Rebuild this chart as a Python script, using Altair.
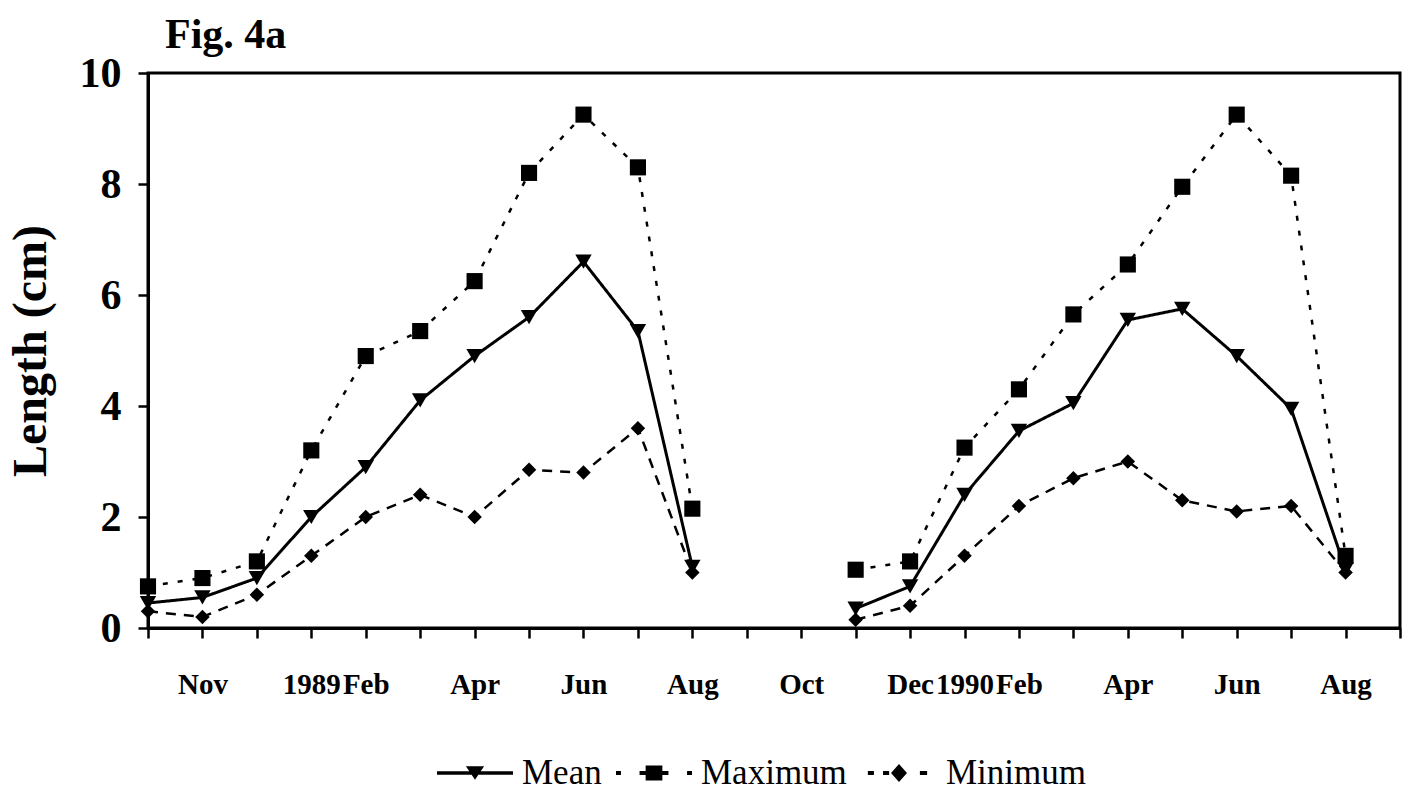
import altair as alt
import pandas as pd

# ---- data ----
series_names = ["Mean", "Maximum", "Minimum"]

# month index: 0 = Oct 1988 ... 22 = Aug 1990
month_index_1 = [0, 1, 2, 3, 4, 5, 6, 7, 8, 9, 10]          # Oct 1988 .. Aug 1989
month_index_2 = [13, 14, 15, 16, 17, 18, 19, 20, 21, 22]    # Nov 1989 .. Aug 1990

mean_1 = [0.45, 0.55, 0.9, 2.0, 2.9, 4.1, 4.9, 5.6, 6.6, 5.35, 1.1]
max_1 = [0.75, 0.9, 1.2, 3.2, 4.9, 5.35, 6.25, 8.2, 9.25, 8.3, 2.15]
min_1 = [0.3, 0.2, 0.6, 1.3, 2.0, 2.4, 2.0, 2.85, 2.8, 3.6, 1.0]

mean_2 = [0.35, 0.75, 2.4, 3.55, 4.05, 5.55, 5.75, 4.9, 3.95, 1.05]
max_2 = [1.05, 1.2, 3.25, 4.3, 5.65, 6.55, 7.95, 9.25, 8.15, 1.3]
min_2 = [0.15, 0.4, 1.3, 2.2, 2.7, 3.0, 2.3, 2.1, 2.2, 1.0]

tick_values = list(range(0, 24))
tick_labels = {1: "Nov", 3: "1989", 4: "Feb", 6: "Apr", 8: "Jun", 10: "Aug",
               12: "Oct", 14: "Dec", 15: "1990", 16: "Feb", 18: "Apr",
               20: "Jun", 22: "Aug"}
y_ticks = [0, 2, 4, 6, 8, 10]

# ---- build table ----
rows = []
for period, idx, groups in [(1, month_index_1, [mean_1, max_1, min_1]),
                            (2, month_index_2, [mean_2, max_2, min_2])]:
    for name, vals in zip(series_names, groups):
        for i, v in zip(idx, vals):
            rows.append({"idx": i, "value": v, "series": name, "period": period})
df = pd.DataFrame(rows)

label_expr = ""
for k, v in tick_labels.items():
    label_expr += f"datum.value == {k} ? '{v}' : "
label_expr += "''"

FONT = "Liberation Serif"

x_enc = alt.X(
    "idx:Q",
    scale=alt.Scale(domain=[0, 23], nice=False, zero=False),
    axis=alt.Axis(values=tick_values, labelExpr=label_expr, title=None, grid=False,
                  labelOverlap=False, labelFlush=False, tickSize=10, labelPadding=32,
                  labelFontSize=29, labelFont=FONT, labelFontWeight="bold",
                  labelColor="black", domainWidth=3, tickWidth=2.5,
                  domainColor="black", tickColor="black"),
)
y_enc = alt.Y(
    "value:Q",
    scale=alt.Scale(domain=[0, 10], nice=False),
    axis=alt.Axis(values=y_ticks, title="Length (cm)", grid=False, tickSize=10,
                  labelPadding=17, labelFontSize=42, labelFont=FONT,
                  labelFontWeight="bold", labelColor="black", domainWidth=3,
                  tickWidth=2.5, domainColor="black", tickColor="black",
                  titleFont=FONT, titleFontSize=48, titleFontWeight="bold",
                  titleColor="black", titlePadding=24),
)

dash_scale = alt.Scale(domain=series_names, range=[[1, 0], [5, 10], [10, 8]])

# legend glyphs (line sample + marker), in symbol units
legend_paths = [
    "M-1,-0.045H1V0.045H-1Z M-0.24,-0.18H0.24L0,0.18Z",
    "M-1,-0.05H-0.87V0.05H-1Z M-0.38,-0.05H0.38V0.05H-0.38Z "
    "M-0.22,-0.2H0.22V0.2H-0.22Z M0.87,-0.05H1V0.05H0.87Z",
    "M-0.82,-0.05H-0.66V0.05H-0.82Z M-0.42,-0.05H-0.26V0.05H-0.42Z "
    "M0,-0.24L0.21,0L0,0.24L-0.21,0Z M0.55,-0.05H0.74V0.05H0.55Z",
]
leg = alt.Legend(title=None, orient="none", legendX=289, legendY=662,
                 direction="horizontal", symbolOpacity=1,
                 symbolFillColor="black", symbolStrokeColor="black",
                 labelFont=FONT, labelFontSize=35, labelColor="black",
                 symbolSize=5776, symbolStrokeWidth=0, labelOffset=9,
                 columnPadding=14)

base = alt.Chart(df)

line_layers = [
    base.transform_filter(alt.datum.series == s).mark_line(color="black", strokeWidth=w).encode(
        x=x_enc, y=y_enc,
        strokeDash=alt.StrokeDash("series:N", scale=dash_scale, legend=leg),
        detail="period:N",
    )
    for s, w in [("Mean", 3), ("Maximum", 2.5), ("Minimum", 2.5)]
]

marker_shapes = {"Mean": "triangle-down", "Maximum": "square", "Minimum": "diamond"}
marker_sizes = {"Mean": 270, "Maximum": 260, "Minimum": 210}
point_layers = [
    base.transform_filter(alt.datum.series == s).mark_point(
        shape=marker_shapes[s], filled=True, color="black", size=marker_sizes[s], opacity=1
    ).encode(x=x_enc, y=y_enc)
    for s in series_names
]

legend_layer = base.mark_point(filled=False, fill="black", stroke="black", opacity=0).encode(
    x=x_enc, y=y_enc,
    shape=alt.Shape("series:N", scale=alt.Scale(domain=series_names, range=legend_paths), legend=leg),
    strokeDash=alt.StrokeDash("series:N", scale=dash_scale, legend=leg),
)

chart = alt.layer(*line_layers, *point_layers, legend_layer).properties(
    width=1252, height=555,
    background="white",
    padding={"left": 148, "top": 73, "right": 11, "bottom": 166},
    autosize=alt.AutoSizeParams(type="none"),
    title=alt.TitleParams("Fig. 4a", anchor="start", frame="group", font=FONT,
                          fontSize=42, fontWeight="bold", color="black", dx=17, dy=7, offset=2),
).configure_view(
    stroke="black", strokeWidth=3
).configure_legend(
    labelFont=FONT, labelFontSize=35, labelColor="black", symbolSize=5776,
    symbolStrokeWidth=0, labelOffset=9, columnPadding=14,
)

chart.save("out.html", embed_options={"renderer": "svg", "actions": False})
